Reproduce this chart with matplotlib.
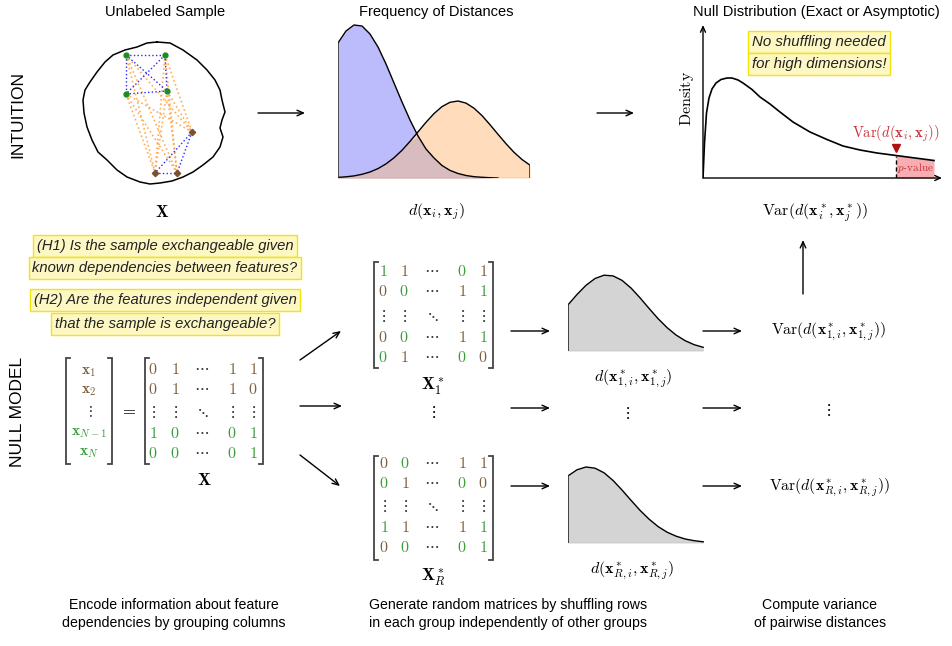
import numpy as np
import matplotlib
matplotlib.use("Agg")
import matplotlib.pyplot as plt

plt.rcParams['mathtext.fontset'] = 'cm'
plt.rcParams['font.family'] = ['Liberation Sans', 'DejaVu Sans']

W, H = 953, 646

# ---------------- data ----------------
titles = ["Unlabeled Sample", "Frequency of Distances", "Null Distribution (Exact or Asymptotic)"]
row_labels = ["INTUITION", "NULL MODEL"]
hypotheses = ["(H1) Is the sample exchangeable given",
              "known dependencies between features?",
              "(H2) Are the features independent given",
              "that the sample is exchangeable?"]
note_lines = ["No shuffling needed", "for high dimensions!"]
captions = ["Encode information about feature\ndependencies by grouping columns",
            "Generate random matrices by shuffling rows\nin each group independently of other groups",
            "Compute variance\nof pairwise distances"]

# sample points (two feature groups)
green_pts = [(126, 55), (165, 55), (126, 94), (167, 91)]
brown_pts = [(192, 132), (155, 173), (177, 173)]

# frequency of distances (heights, evenly spaced samples)
freq_within = [135, 147, 153, 152, 144, 131, 114, 95, 76, 58, 42, 29, 20, 12.5,
               7.6, 4.5, 2.5, 1.3, 0.7, 0.3, 0.0]
freq_between = [0.6, 1.2, 2.1, 3.7, 6.0, 9.4, 14.1, 20.2, 27.7, 36.6, 46.1, 55.7,
                64.4, 71.4, 75.7, 77, 74.9, 69.8, 62.4, 53.3, 43.7, 34.3, 25.7, 18.5, 12.8]

# null distribution
null_x = [0, 1.5, 3.5, 6, 9, 13, 18, 24, 29, 35, 40, 49, 57, 67, 77, 90, 107,
          124, 140, 157, 174, 193, 212, 231]
null_y = [0, 35, 65, 80, 89, 95, 98.5, 100, 100, 98, 95, 88.5, 81, 74, 66, 56,
          46, 38.5, 32, 28, 25, 22.5, 20, 17.5]
observed_stat = 193

# permutation distance distributions
perm_first = [46.1, 56.5, 65.7, 72.5, 75.8, 75.1, 70.6, 62.9, 53.1, 42.5, 32.3,
              23.3, 15.9, 10.3, 6.3, 3.7]
perm_last = [67.1, 73.2, 76, 74.8, 70.2, 62.5, 52.9, 42.6, 32.6, 23.8, 16.4,
             10.8, 6.8, 4.0, 2.3, 1.2]

# matrices: 'c' cdots, 'v' vdots, 'd' ddots ; colors: B brown, G green, k black
vec_entries = [r'\mathbf{x}_1', r'\mathbf{x}_2', 'v', r'\mathbf{x}_{N-1}', r'\mathbf{x}_N']
vec_colors = ['B', 'B', 'k', 'G', 'G']
X_entries = [['0', '1', 'c', '1', '1'], ['0', '1', 'c', '1', '0'], ['v', 'v', 'd', 'v', 'v'],
             ['1', '0', 'c', '0', '1'], ['0', '0', 'c', '0', '1']]
X_colors = [['B', 'B', 'k', 'B', 'B'], ['B', 'B', 'k', 'B', 'B'], ['k'] * 5,
            ['G', 'G', 'k', 'G', 'G'], ['G', 'G', 'k', 'G', 'G']]
X1_entries = [['1', '1', 'c', '0', '1'], ['0', '0', 'c', '1', '1'], ['v', 'v', 'd', 'v', 'v'],
              ['0', '0', 'c', '1', '1'], ['0', '1', 'c', '0', '0']]
X1_colors = [['G', 'B', 'k', 'G', 'B'], ['B', 'G', 'k', 'B', 'G'], ['k'] * 5,
             ['B', 'G', 'k', 'B', 'G'], ['G', 'B', 'k', 'G', 'B']]
XR_entries = [['0', '0', 'c', '1', '1'], ['0', '1', 'c', '0', '0'], ['v', 'v', 'd', 'v', 'v'],
              ['1', '1', 'c', '1', '1'], ['0', '0', 'c', '0', '1']]
XR_colors = [['B', 'G', 'k', 'B', 'B'], ['G', 'B', 'k', 'G', 'B'], ['k'] * 5,
             ['G', 'B', 'k', 'B', 'G'], ['B', 'G', 'k', 'G', 'G']]

# ---------------- styles ----------------
BROWN = '#7d5f3f'
GREEN = '#3a9d3a'
CMAP = {'B': BROWN, 'G': GREEN, 'k': '#333333'}
RED = '#c8303a'
YFILL = '#fdf7c4'
YEDGE = '#f3e40c'

fig = plt.figure(figsize=(W / 100, H / 100), dpi=100)
ax = fig.add_axes([0, 0, 1, 1])
ax.set_xlim(0, W)
ax.set_ylim(H, 0)
ax.axis('off')


def px_axes(x0, y0, x1, y1):
    a = fig.add_axes([x0 / W, 1 - y1 / H, (x1 - x0) / W, (y1 - y0) / H])
    a.axis('off')
    a.patch.set_alpha(0)
    return a


def arrow(x0, y0, x1, y1):
    ax.annotate('', xy=(x1, y1), xytext=(x0, y0),
                arrowprops=dict(arrowstyle='->,head_length=0.45,head_width=0.2',
                                lw=1.0, color='black', shrinkA=0, shrinkB=0))


# titles
for t, x in zip(titles, [165, 436, 816]):
    ax.text(x, 12, t, ha='center', va='center', fontsize=10.5)

# section labels
ax.text(18, 114, row_labels[0], rotation=90, ha='center', va='center', fontsize=12.5)
ax.text(18, 412, row_labels[1], rotation=90, ha='center', va='center', fontsize=12.5)

# ---------------- blob ----------------
blob = [(157, 42), (170, 43), (183, 50), (197, 60), (207, 70), (215, 80), (220, 90),
        (222, 100), (225, 112), (222, 120), (220, 128), (223, 137), (220, 147),
        (213, 157), (203, 165), (193, 172), (183, 177), (172, 181), (160, 183),
        (150, 184), (140, 182), (127, 177), (117, 170), (107, 160), (98, 152),
        (92, 140), (87, 127), (84, 113), (83, 100), (85, 90), (90, 82), (97, 72),
        (105, 62), (113, 55), (125, 50), (137, 47), (147, 43), (157, 42)]
bx, by = zip(*blob)
ax.plot(bx, by, color='black', lw=1.1, solid_joinstyle='round')

for g in green_pts:
    for b in brown_pts:
        ax.plot([g[0], b[0]], [g[1], b[1]], ':', color='#ff9a30', lw=1.2, alpha=0.8)
for grp in (green_pts, brown_pts):
    for i in range(len(grp)):
        for j in range(i + 1, len(grp)):
            ax.plot([grp[i][0], grp[j][0]], [grp[i][1], grp[j][1]], ':',
                    color='#2828ff', lw=1.0)
ax.plot(*zip(*green_pts), 'o', color='#1e8c1e', ms=3.5, zorder=5)
ax.plot(*zip(*brown_pts), 'D', color='#7a5230', ms=3.2, zorder=5)
ax.text(162, 212, r'$\mathbf{X}$', ha='center', va='center', fontsize=12)

arrow(258, 113, 305, 113)
arrow(597, 113, 634, 113)

# ---------------- frequency of distances ----------------
fa = px_axes(338, 20, 530, 178)
fa.set_xlim(0, 24)
fa.set_ylim(0, 158)
xb = np.arange(len(freq_within))
xo = np.arange(len(freq_between))
fb = np.array(freq_within)
fo = np.array(freq_between)
fa.fill_between(xb, 0, fb, color='#bcbcfc', lw=0)
fa.fill_between(xo, 0, fo, color='#fedcbc', lw=0)
fb_full = np.concatenate([fb, np.zeros(len(fo) - len(fb))])
fa.fill_between(xo, 0, np.minimum(fb_full, fo), color='#d9bcbf', lw=0)
fa.plot(xb, fb, color='black', lw=1.0)
fa.plot(xo, fo, color='black', lw=1.0)
fa.plot([0, 0], [0, fb[0]], color='#333333', lw=1.2)
fa.plot([xo[-1], xo[-1]], [0, fo[-1]], color='#333333', lw=1.2)
fa.plot([0, xo[-1]], [0, 0], color='#555555', lw=0.8)
ax.text(437, 212, r'$d(\mathbf{x}_i,\mathbf{x}_j)$', ha='center', va='center', fontsize=11.5)

# ---------------- null distribution ----------------
na = px_axes(703, 20, 945, 178)
na.set_xlim(0, 242)
na.set_ylim(0, 158)
nx = np.array(null_x, dtype=float)
ny = np.array(null_y, dtype=float)
m = nx >= observed_stat
na.fill_between(nx[m], 0, ny[m], color='#f7aeb2', lw=0)
na.plot(nx, ny, color='black', lw=1.2)
na.plot([observed_stat, observed_stat], [0, ny[m][0]], '--', color='black', lw=1.0, dashes=(3, 2))
na.annotate('', xy=(0, 153), xytext=(0, 0),
            arrowprops=dict(arrowstyle='->,head_length=0.4,head_width=0.18', lw=1.0,
                            color='black', shrinkA=0, shrinkB=0), annotation_clip=False)
na.annotate('', xy=(239, 0), xytext=(0, 0),
            arrowprops=dict(arrowstyle='->,head_length=0.4,head_width=0.18', lw=1.0,
                            color='black', shrinkA=0, shrinkB=0), annotation_clip=False)
na.plot([observed_stat], [30], 'v', color='#b01010', ms=5.5, clip_on=False)
na.text(212.5, 10, r'$p$-$\mathrm{value}$', ha='center', va='center', fontsize=8, color=RED)
ax.text(896, 134, r'$\mathrm{Var}(d(\mathbf{x}_i,\mathbf{x}_j))$', ha='center', va='center',
        fontsize=10.5, color=RED)
ax.text(687, 98, r'$\mathrm{Density}$', rotation=90, ha='center', va='center', fontsize=11.5)
for line, y in zip(note_lines, [42, 64]):
    ax.text(819, y, line, ha='center', va='center', fontsize=10.8, style='italic', color='#222222',
            bbox=dict(boxstyle='square,pad=0.25', fc=YFILL, ec=YEDGE, lw=1.0))
ax.text(815, 212, r'$\mathrm{Var}(d(\mathbf{x}^*_i,\mathbf{x}^*_j))$', ha='center', va='center',
        fontsize=11.5)

# ---------------- hypotheses ----------------
for line, y in zip(hypotheses, [246, 268, 300, 324]):
    ax.text(165, y, line, ha='center', va='center', fontsize=10.6, style='italic', color='#222222',
            bbox=dict(boxstyle='square,pad=0.25', fc=YFILL, ec=YEDGE, lw=1.0))


# ---------------- matrices ----------------
def sym(e):
    return {'c': r'$\cdots$', 'v': r'$\vdots$', 'd': r'$\ddots$'}.get(e, '$' + e + '$')


def bracket(x, top, bot, side):
    d = 4 if side == 'L' else -4
    ax.plot([x + d, x, x, x + d], [top, top, bot, bot], color='#444444', lw=1.3,
            solid_joinstyle='miter')


def matrix(entries, colors, xs, ys, left, right, top, bot):
    bracket(left, top, bot, 'L')
    bracket(right, top, bot, 'R')
    for r, row in enumerate(entries):
        for c, e in enumerate(row):
            dy = -3 if e == 'c' else 0
            ax.text(xs[c], ys[r] + dy, sym(e), ha='center', va='center', fontsize=11.5,
                    color=CMAP[colors[r][c]])


# vector
bracket(66, 358, 464, 'L')
bracket(112, 358, 464, 'R')
for e, cc, y in zip(vec_entries, vec_colors, [372, 391, 412, 433, 453]):
    ax.text(89, y, sym(e), ha='center', va='center', fontsize=11, color=CMAP[cc])
ax.text(128, 410, r'$=$', ha='center', va='center', fontsize=12)
matrix(X_entries, X_colors, [153, 175, 202, 232, 253], [370, 390, 412, 433, 453],
       145, 263, 358, 464)
ax.text(204, 480, r'$\mathbf{X}$', ha='center', va='center', fontsize=12.5)

matrix(X1_entries, X1_colors, [383, 404, 432, 462, 483], [272, 292, 316, 338, 358],
       374, 493, 262, 368)
ax.text(433, 386, r'$\mathbf{X}^*_1$', ha='center', va='center', fontsize=12.5)
ax.text(433, 412, r'$\vdots$', ha='center', va='center', fontsize=11.5)
matrix(XR_entries, XR_colors, [384, 405, 432, 462, 483], [464, 484, 506, 528, 548],
       374, 493, 456, 560)
ax.text(433, 577, r'$\mathbf{X}^*_R$', ha='center', va='center', fontsize=12.5)

arrow(300, 360, 341, 331)
arrow(300, 406, 342, 406)
arrow(300, 455, 340, 486)

# ---------------- permutation distributions ----------------
for vals, (y0, y1) in zip([perm_first, perm_last], [(265, 351), (457, 543)]):
    pa = px_axes(568, y0, 705, y1)
    pa.set_xlim(0, 15.2)
    pa.set_ylim(0, 86)
    xv = np.arange(len(vals))
    pa.fill_between(xv, 0, vals, color='#d4d4d4', lw=0)
    pa.plot(xv, vals, color='black', lw=1.0)
    pa.plot([0, 0], [0, vals[0]], color='#333333', lw=1.3)
    pa.plot([0, xv[-1]], [0, 0], color='#555555', lw=0.8)

ax.text(633, 378, r'$d(\mathbf{x}^*_{1,i},\mathbf{x}^*_{1,j})$', ha='center', va='center', fontsize=11.5)
ax.text(627, 413, r'$\vdots$', ha='center', va='center', fontsize=11.5)
ax.text(632, 570, r'$d(\mathbf{x}^*_{R,i},\mathbf{x}^*_{R,j})$', ha='center', va='center', fontsize=11.5)

for y in [331, 408, 486]:
    arrow(511, y, 550, y)
    arrow(703, y, 742, y)

ax.text(829, 331, r'$\mathrm{Var}(d(\mathbf{x}^*_{1,i},\mathbf{x}^*_{1,j}))$', ha='center', va='center', fontsize=11.3)
ax.text(828, 410, r'$\vdots$', ha='center', va='center', fontsize=11.5)
ax.text(829, 487, r'$\mathrm{Var}(d(\mathbf{x}^*_{R,i},\mathbf{x}^*_{R,j}))$', ha='center', va='center', fontsize=11.3)
arrow(803, 294, 803, 240)

# ---------------- captions ----------------
for cap, x in zip(captions, [174, 508, 820]):
    ax.text(x, 614, cap, ha='center', va='center', fontsize=10.2, linespacing=1.3)

fig.savefig('out.png', dpi=100)
